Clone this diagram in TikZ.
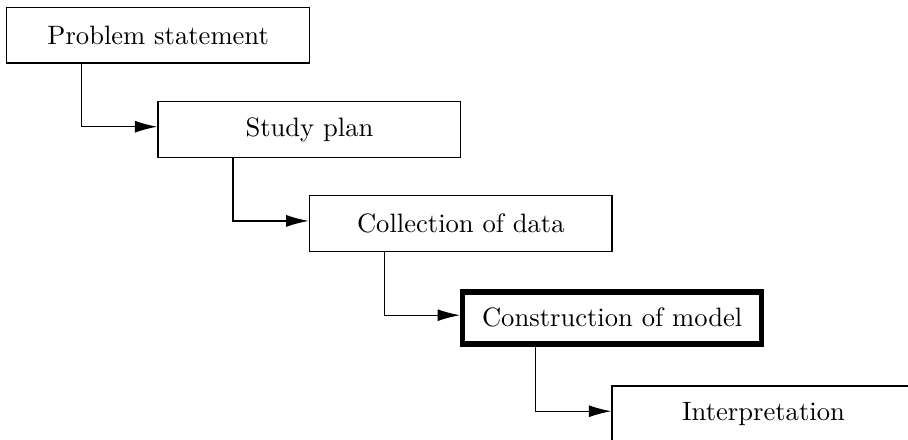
\documentclass[tikz,border=0pt]{standalone}
\usetikzlibrary{arrows.meta}
\begin{document}
\begin{tikzpicture}[
  stage/.style={draw, line width=0.5pt, minimum width=4cm, minimum height=0.74cm, inner sep=0pt},
  keystage/.style={stage, line width=2pt, minimum width=4cm-1.5pt, minimum height=0.74cm-1.5pt},
  link/.style={line width=0.5pt, -{Latex[length=8.5pt,width=4.5pt]}}
]
\useasboundingbox (0,0) rectangle (12,5.815);
\node[stage]    (p) at (2.09,5.35) {Problem statement};
\node[stage]    (s) at (4.09,4.105) {Study plan};
\node[stage]    (c) at (6.09,2.86) {Collection of data};
\node[keystage] (m) at (8.09,1.614) {Construction of model};
\node[stage]    (i) at (10.09,0.345) {Interpretation};
\draw[link] ([xshift=1cm]p.south west) |- ([yshift=1pt]s.west);
\draw[link] ([xshift=1cm]s.south west) |- ([yshift=1pt]c.west);
\draw[link] ([xshift=1cm]c.south west) |- ([yshift=1pt]m.west);
\draw[link] ([xshift=1cm]m.south west) |- ([yshift=1pt]i.west);
\end{tikzpicture}
\end{document}
